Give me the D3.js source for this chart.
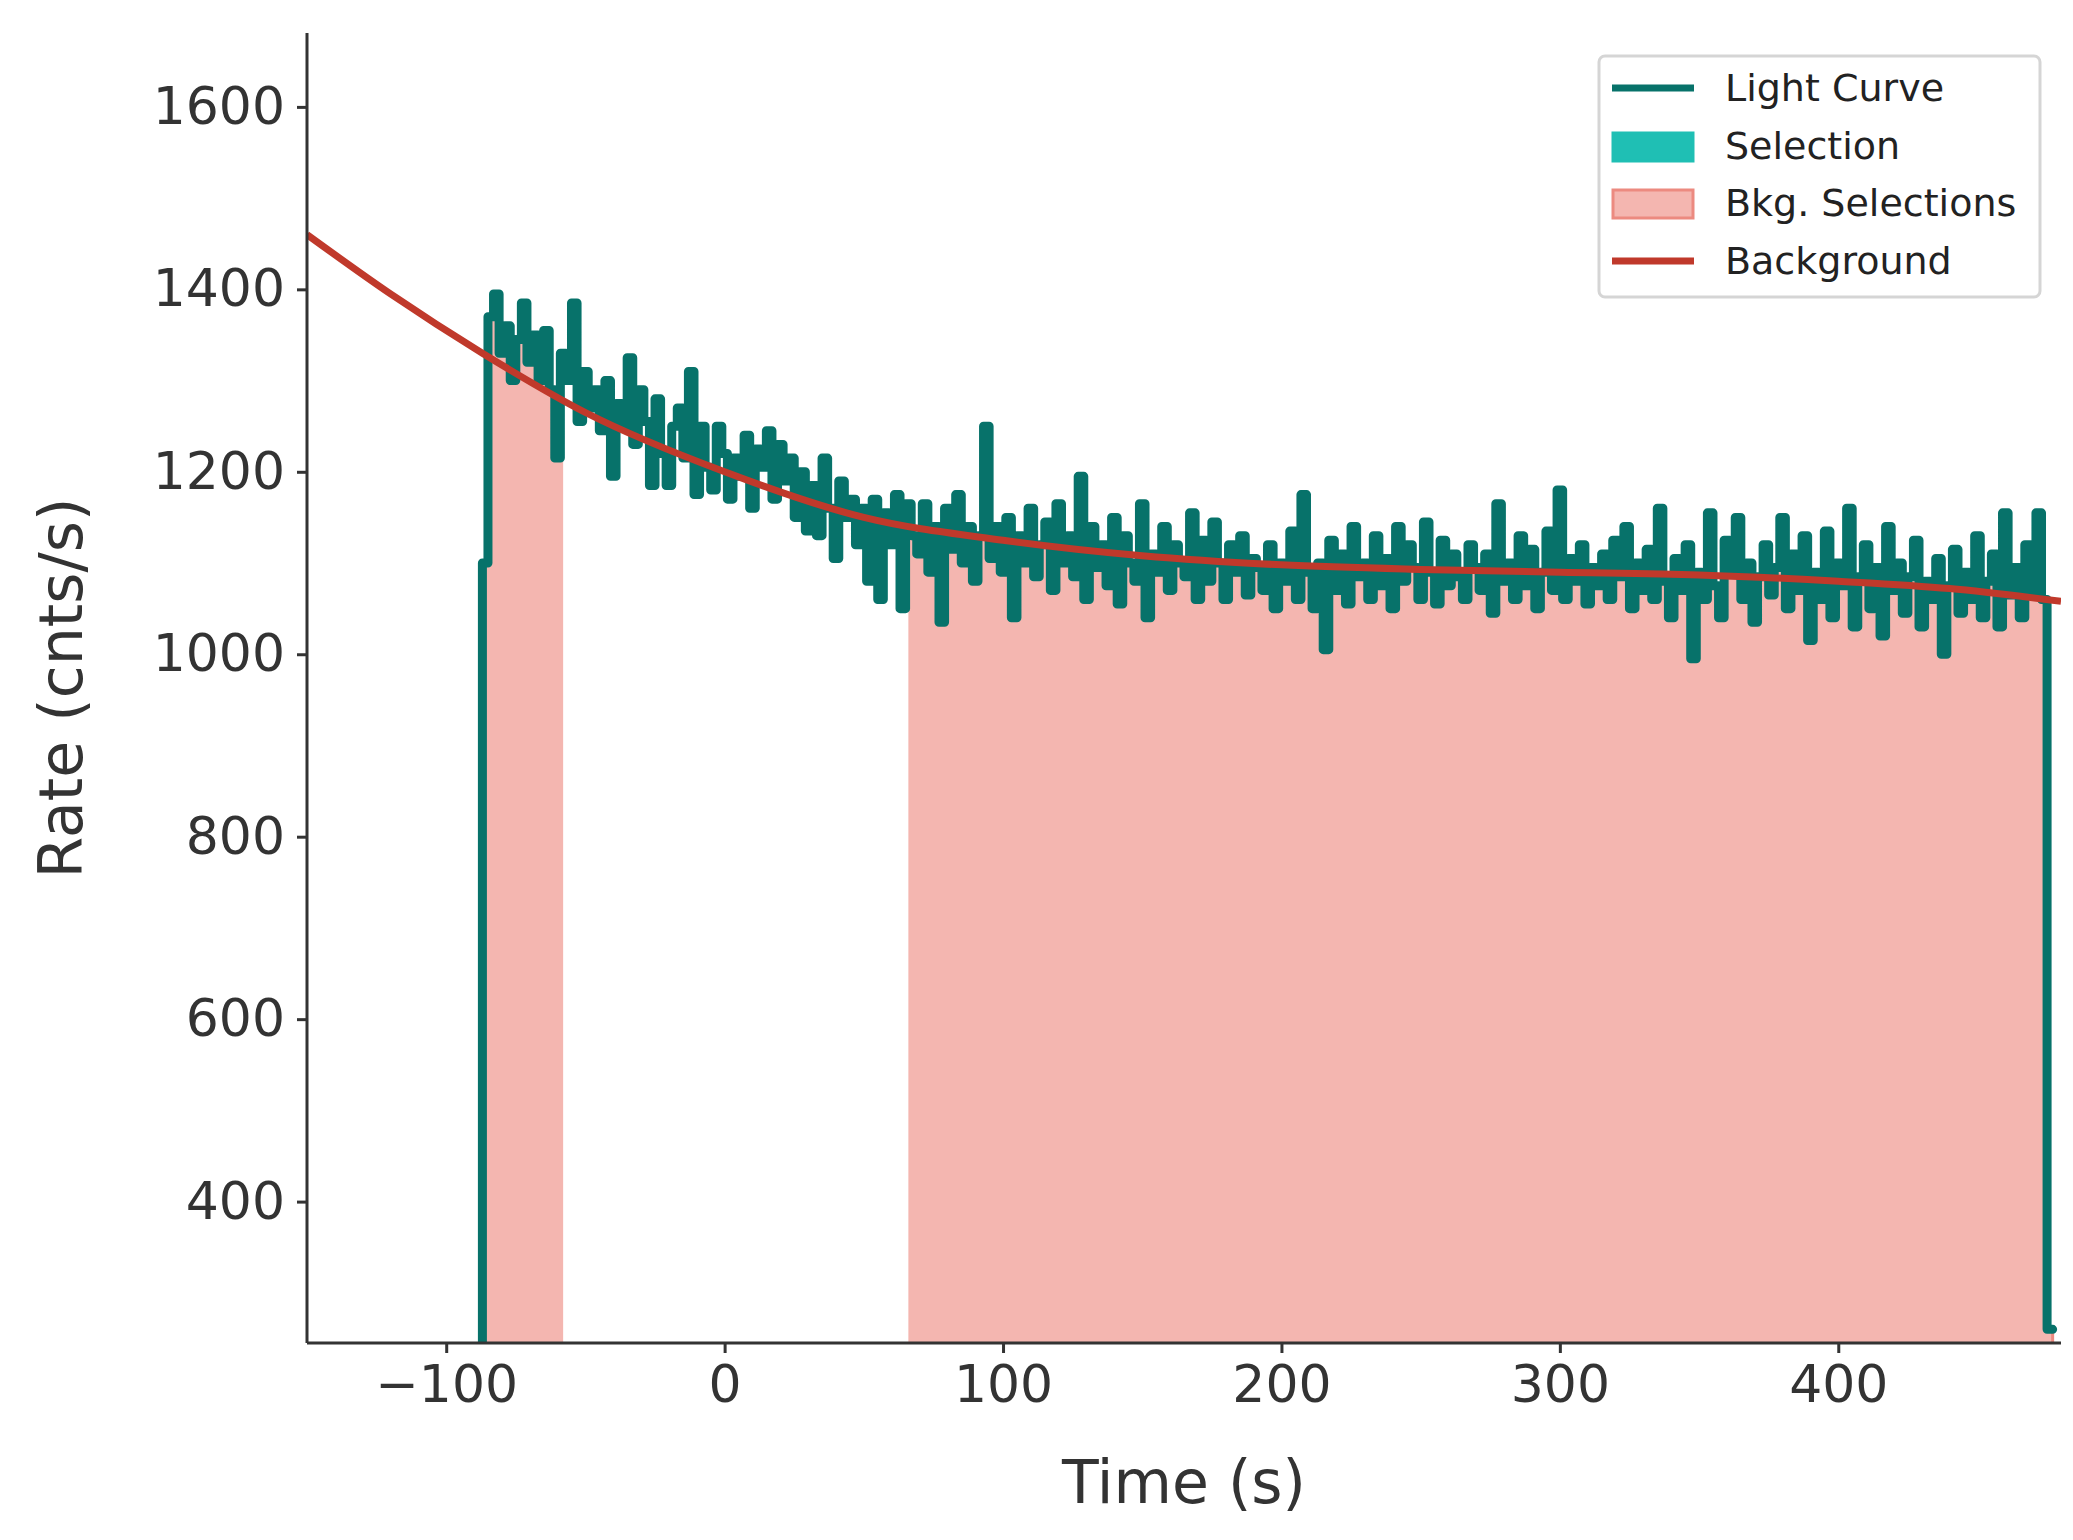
<!DOCTYPE html>
<html><head><meta charset="utf-8">
<script src="https://cdn.jsdelivr.net/npm/d3@7"></script>
<style>body{margin:0;background:#fff}</style>
</head><body>
<svg id="c" width="2073" height="1540"></svg>
<script>
const binStart = -87, binWidth = 2;
const rates = [
1100,1370,1395,1330,1360,1300,1345,1385,1320,1350,
1300,1355,1290,1215,1330,1300,1385,1255,1310,1270,
1290,1245,1300,1195,1275,1250,1325,1230,1290,1255,
1185,1280,1220,1185,1250,1270,1215,1310,1175,1250,
1205,1180,1250,1220,1170,1215,1195,1240,1160,1225,
1205,1245,1170,1230,1190,1215,1150,1200,1135,1185,
1130,1215,1160,1105,1190,1150,1170,1120,1160,1080,
1170,1060,1155,1120,1175,1050,1165,1130,1110,1165,
1090,1140,1035,1160,1115,1175,1100,1140,1080,1130,
1250,1105,1140,1090,1150,1040,1130,1100,1160,1085,
1120,1145,1070,1165,1100,1130,1085,1195,1060,1140,
1095,1120,1075,1150,1055,1130,1100,1080,1165,1040,
1110,1090,1140,1070,1120,1100,1085,1155,1060,1125,
1080,1145,1100,1060,1120,1090,1130,1065,1105,1095,
1070,1120,1050,1100,1080,1135,1060,1175,1090,1050,
1100,1005,1125,1070,1110,1055,1140,1085,1100,1060,
1130,1075,1105,1050,1140,1080,1120,1095,1060,1145,
1090,1055,1125,1075,1110,1085,1060,1120,1095,1070,
1110,1045,1165,1080,1100,1060,1130,1075,1115,1050,
1090,1135,1070,1180,1060,1105,1080,1120,1055,1095,
1075,1110,1060,1125,1085,1140,1050,1100,1070,1115,
1060,1160,1080,1040,1105,1070,1120,995,1090,1060,
1155,1075,1040,1125,1090,1150,1060,1100,1035,1085,
1120,1065,1095,1150,1050,1110,1070,1130,1015,1090,
1060,1135,1040,1100,1075,1160,1030,1085,1120,1050,
1095,1020,1140,1070,1100,1045,1085,1125,1030,1080,
1060,1105,1000,1075,1115,1045,1090,1060,1130,1040,
1080,1110,1030,1155,1065,1095,1040,1120,1070,1155,
1060,260];
const bkgIntervals = [[-87,-58],[66,479]];
const bkgT = [-150,-120,-87,-50,0,50,100,150,200,250,300,350,400,440,480];
const bkgV = [1460,1395,1330,1265,1200,1150,1125,1108,1098,1093,1090,1087,1080,1072,1058];
const xTicks = [-100,0,100,200,300,400];
const yTicks = [400,600,800,1000,1200,1400,1600];
const legendItems = ["Light Curve","Selection","Bkg. Selections","Background"];

const svg = d3.select("#c");
const L=307,R=2061,T=33,B=1343;
const x = d3.scaleLinear().domain([-150,480]).range([L,R]);
const y = d3.scaleLinear().domain([245,1681]).range([B,T]);
const txt="#333333", font="DejaVu Sans";
svg.append("defs").append("clipPath").attr("id","clip").append("rect")
  .attr("x",L).attr("y",T).attr("width",R-L).attr("height",B-T);
const g = svg.append("g").attr("clip-path","url(#clip)");

const pts = [{t:binStart,v:0}];
rates.forEach((v,i)=>pts.push({t:binStart+i*binWidth,v}));
pts.push({t:binStart+rates.length*binWidth,v:rates[rates.length-1]});

bkgIntervals.forEach(([a,b],k)=>{
  const cid="bc"+k;
  svg.select("defs").append("clipPath").attr("id",cid).append("rect")
    .attr("x",x(a)).attr("y",T).attr("width",x(b)-x(a)).attr("height",B-T);
  const area = d3.area().curve(d3.curveStepAfter).x(d=>x(d.t)).y0(y(0)).y1(d=>y(d.v));
  g.append("path").datum(pts.slice(1)).attr("clip-path",`url(#${cid})`)
    .attr("d",area).attr("fill","#f4b6b0").attr("stroke","#ec8a80").attr("stroke-width",3);
});
const line = d3.line().curve(d3.curveStepAfter).x(d=>x(d.t)).y(d=>y(d.v));
g.append("path").datum(pts).attr("d",line).attr("fill","none")
  .attr("stroke","#07726a").attr("stroke-width",9).attr("stroke-linejoin","round").attr("stroke-linecap","round");
const bl = d3.line().curve(d3.curveMonotoneX).x((d,i)=>x(bkgT[i])).y(d=>y(d));
g.append("path").datum(bkgV).attr("d",bl).attr("fill","none")
  .attr("stroke","#c0392b").attr("stroke-width",7);

const xa = svg.append("g").attr("transform",`translate(0,${B})`)
  .call(d3.axisBottom(x).tickValues(xTicks).tickSize(10).tickPadding(12).tickFormat(d=>d<0?"\u2212"+(-d):d));
const ya = svg.append("g").attr("transform",`translate(${L},0)`)
  .call(d3.axisLeft(y).tickValues(yTicks).tickSize(10).tickPadding(12).tickFormat(d3.format("d")));
[xa,ya].forEach(a=>{
  a.select(".domain").attr("stroke",txt).attr("stroke-width",3);
  a.selectAll(".tick line").attr("stroke",txt).attr("stroke-width",3);
  a.selectAll("text").attr("fill",txt).attr("font-family",font).attr("font-size",52);
});
xa.select(".domain").attr("d",`M${L},0H${R}`);
ya.select(".domain").attr("d",`M0,${B}V${T}`);
svg.append("text").attr("x",(L+R)/2).attr("y",1503).attr("text-anchor","middle")
  .attr("font-family",font).attr("font-size",60).attr("fill",txt).text("Time (s)");
svg.append("text").attr("transform",`translate(82,${(T+B)/2}) rotate(-90)`).attr("text-anchor","middle")
  .attr("font-family",font).attr("font-size",60).attr("fill",txt).text("Rate (cnts/s)");

const lg = svg.append("g");
lg.append("rect").attr("x",1599).attr("y",56).attr("width",441).attr("height",241).attr("rx",6)
  .attr("fill","#fff").attr("fill-opacity",0.8).attr("stroke","#d5d5d5").attr("stroke-width",3);
const ly=[88,146,203,261];
legendItems.forEach((s,i)=>{
  if(i===0||i===3) lg.append("line").attr("x1",1612).attr("x2",1694).attr("y1",ly[i]).attr("y2",ly[i])
    .attr("stroke",i===0?"#07726a":"#c0392b").attr("stroke-width",7);
  else lg.append("rect").attr("x",1613).attr("y",ly[i]-13).attr("width",80).attr("height",28)
    .attr("fill",i===1?"#1fbfb4":"#f4b6b0").attr("stroke",i===1?"#1fbfb4":"#ec8a80").attr("stroke-width",3);
  lg.append("text").attr("x",1725).attr("y",ly[i]+13).attr("font-family",font).attr("font-size",38)
    .attr("fill","#222").text(s);
});
</script></body></html>
